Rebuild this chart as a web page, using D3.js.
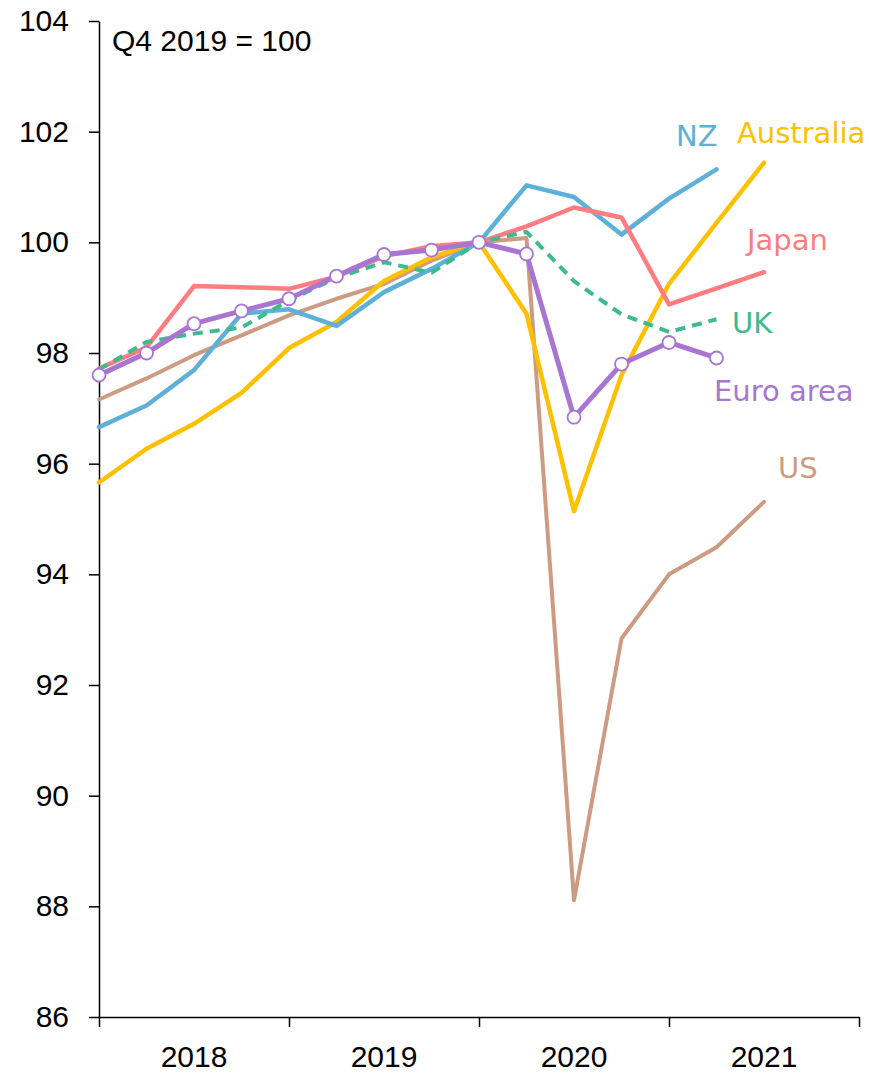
<!DOCTYPE html>
<html>
<head>
<meta charset="utf-8">
<script src="https://cdn.jsdelivr.net/npm/d3@7"></script>
<style>
  body { margin: 0; background: #fff; }
  svg text { font-family: "Century Gothic", "Liberation Sans", Arial, sans-serif; }
  svg text.series-label { font-family: "Century Gothic", "DejaVu Sans", sans-serif; }
  .axis path, .axis line { stroke: #000; stroke-width: 1.5; }
</style>
</head>
<body>
<svg width="869" height="1075"></svg>
<script>
// quarter index 0 = first plotted quarter (left edge of the axis)
var years = ["2018", "2019", "2020", "2021"];
var yTicks = [86, 88, 90, 92, 94, 96, 98, 100, 102, 104];

var nz        = [96.66, 97.05, 97.69, 98.71, 98.79, 98.49, 99.1, 99.52, 100.0, 101.03, 100.82, 100.14, 100.79, 101.32];
var australia = [95.66, 96.27, 96.72, 97.28, 98.09, 98.56, 99.3, 99.73, 100.0, 98.71, 95.14, 97.6, 99.25, 100.35, 101.44];
var japan     = [97.72, 98.1, 99.21, 99.19, 99.16, 99.38, 99.75, 99.93, 100.0, 100.29, 100.63, 100.45, 98.88, 99.17, 99.46];
var uk        = [97.7, 98.2, 98.35, 98.46, 98.95, 99.36, 99.64, 99.45, 100.0, 100.19, 99.3, 98.7, 98.38, 98.61];
var euroArea  = [97.6, 98.0, 98.53, 98.76, 98.98, 99.39, 99.78, 99.86, 100.0, 99.79, 96.84, 97.8, 98.19, 97.91];
var us        = [97.16, 97.54, 97.96, 98.32, 98.68, 98.98, 99.25, 99.67, 100.0, 100.08, 88.11, 92.84, 94.0, 94.49, 95.31];

var series = [
  {name: "US", values: us, color: "#cc9b82", width: 4},
  {name: "Australia", values: australia, color: "#ffc000", width: 4.5},
  {name: "NZ", values: nz, color: "#5eb0d8", width: 4.5},
  {name: "Japan", values: japan, color: "#ff7c80", width: 4.5},
  {name: "UK", values: uk, color: "#3dba8e", width: 4, dash: "10,7"},
  {name: "Euro area", values: euroArea, color: "#a875d3", width: 5, markers: true}
];

// label positions (text anchor start) next to line ends
var labels = [
  {name: "NZ", color: "#5eb0d8", x: 676, y: 146},
  {name: "Australia", color: "#ffc000", x: 737, y: 143},
  {name: "Japan", color: "#ff7c80", x: 747, y: 250},
  {name: "UK", color: "#3dba8e", x: 732, y: 333},
  {name: "Euro area", color: "#a875d3", x: 714, y: 401},
  {name: "US", color: "#cc9b82", x: 778, y: 478}
];

var svg = d3.select("svg"),
    margin = {left: 99, right: 10, top: 21, bottom: 58},
    width = 869 - margin.left - margin.right,
    height = 1075 - margin.top - margin.bottom;

var x = d3.scaleLinear().domain([0, 16]).range([margin.left, margin.left + 760]);
var y = d3.scaleLinear().domain([86, 104]).range([margin.top + height, margin.top]);

var yAxis = svg.append("g")
    .attr("class", "axis")
    .attr("transform", "translate(" + margin.left + ",0)")
    .call(d3.axisLeft(y).tickValues(yTicks).tickSize(10).tickSizeOuter(0).tickPadding(20));
yAxis.selectAll("text").attr("font-size", 30).attr("fill", "#000");

var xAxis = svg.append("g")
    .attr("class", "axis")
    .attr("transform", "translate(0," + y(86) + ")")
    .call(d3.axisBottom(x).tickValues([0, 4, 8, 12, 16]).tickSize(10).tickSizeOuter(0).tickFormat(""));

svg.append("g").selectAll("text")
  .data(years)
  .enter().append("text")
  .attr("x", function(d, i) { return x(i * 4 + 2); })
  .attr("y", 1067)
  .attr("text-anchor", "middle")
  .attr("font-size", 30)
  .text(function(d) { return d; });

svg.append("text")
  .attr("x", 112)
  .attr("y", 51)
  .attr("font-size", 30)
  .text("Q4 2019 = 100");

var line = d3.line()
  .x(function(d, i) { return x(i); })
  .y(function(d) { return y(d); });

var lines = svg.append("g").attr("class", "lines");

series.forEach(function(s) {
  lines.append("path")
    .datum(s.values)
    .attr("fill", "none")
    .attr("stroke", s.color)
    .attr("stroke-width", s.width)
    .attr("stroke-linejoin", "round")
    .attr("stroke-linecap", s.dash ? "butt" : "round")
    .attr("stroke-dasharray", s.dash || null)
    .attr("d", line);

  if (s.markers) {
    lines.append("g").selectAll("circle")
      .data(s.values)
      .enter().append("circle")
      .attr("cx", function(d, i) { return x(i); })
      .attr("cy", function(d) { return y(d); })
      .attr("r", 6.5)
      .attr("fill", "#fff")
      .attr("stroke", s.color)
      .attr("stroke-width", 1.8);
  }
});

svg.append("g").selectAll("text")
  .data(labels)
  .enter().append("text")
  .attr("class", "series-label")
  .attr("x", function(d) { return d.x; })
  .attr("y", function(d) { return d.y; })
  .attr("fill", function(d) { return d.color; })
  .attr("font-size", 29)
  .text(function(d) { return d.name; });
</script>
</body>
</html>
